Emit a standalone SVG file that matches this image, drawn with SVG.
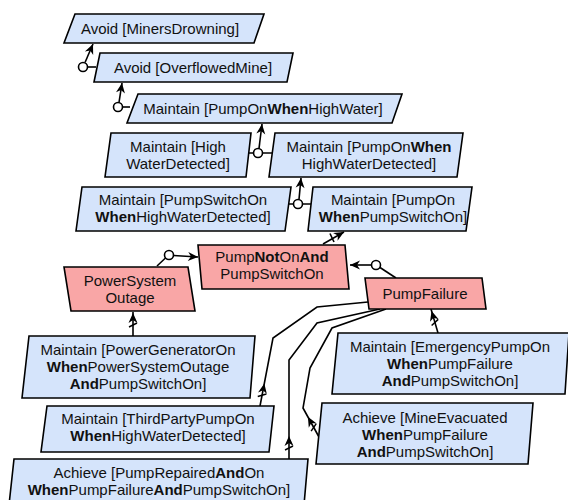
<svg xmlns="http://www.w3.org/2000/svg" width="568" height="500" viewBox="0 0 568 500">
<defs>
<style>
.g{fill:#d5e4fb;stroke:#000;stroke-width:1.6}
.o{fill:#f9a6a6;stroke:#000;stroke-width:1.6}
text{font-family:"Liberation Sans",Arial,sans-serif;font-size:15px;fill:#111;text-anchor:middle}
.b{font-weight:bold}
.c{fill:none;stroke:#000;stroke-width:1.6}
.ci{fill:#fff;stroke:#000;stroke-width:1.6}
</style>
<marker id="arr" markerUnits="userSpaceOnUse" markerWidth="12" markerHeight="10" refX="10" refY="5" orient="auto" overflow="visible">
<path d="M0,0.5 L10,5 L0,9.5 L3,5 Z" fill="#000"/>
</marker>
<marker id="res" markerUnits="userSpaceOnUse" markerWidth="26" markerHeight="12" refX="0" refY="6" orient="auto" overflow="visible">
<path d="M13,1.5 L23,6 L13,10.5 L16,6 Z" fill="#000"/>
<path d="M9,2 L13,10" stroke="#000" stroke-width="1.5"/>
</marker>
</defs>

<g id="connectors">
<circle class="ci" cx="83" cy="67" r="4.5"/>
<path class="c" d="M87.5,67 L96,67"/>
<path class="c" d="M85,62.5 L93,44" marker-end="url(#arr)"/>
<circle class="ci" cx="118" cy="107" r="4.5"/>
<path class="c" d="M122.5,107 L130,107"/>
<path class="c" d="M119,102.5 L122,83" marker-end="url(#arr)"/>
<circle class="ci" cx="258" cy="153" r="4.5"/>
<path class="c" d="M249,153 L253.5,153 M262.5,153 L272,153"/>
<path class="c" d="M259,148.5 L262,124" marker-end="url(#arr)"/>
<circle class="ci" cx="298" cy="204" r="4.5"/>
<path class="c" d="M288,204 L293.5,204 M302.5,204 L311,204"/>
<path class="c" d="M299,199.5 L301,178" marker-end="url(#arr)"/>
<circle class="ci" cx="169" cy="255" r="4.5"/>
<path class="c" d="M157,266 L165.5,258"/>
<path class="c" d="M173.5,255.5 L198,257" marker-end="url(#arr)"/>
<circle class="ci" cx="376" cy="265" r="4.5"/>
<path class="c" d="M396,278 L380,267.5"/>
<path class="c" d="M371.5,265 L350,265" marker-end="url(#arr)"/>
<path class="c" d="M323,244 L344,232" marker-end="url(#arr)"/>
<path class="c" d="M330,233.5 L334,242"/>
<path class="c" d="M133,336 L133,312" marker-start="url(#res)"/>
<path class="c" d="M438,333 L431,309" marker-start="url(#res)"/>
<path class="c" d="M260,406 L273,338 L317,307 L368,302" marker-start="url(#res)"/>
<path class="c" d="M289,459 L289,360 L317,323 L380,309" marker-start="url(#res)"/>
<path class="c" d="M319,437 L303,408 L310,368 L332,328 L386,309" marker-start="url(#res)"/>
</g>

<g id="n1"><path class="g" d="M75,14 L264,14 L254,43 L64,43 Z"/><text x="160" y="34">Avoid [MinersDrowning]</text></g>
<g id="n2"><path class="g" d="M100,53 L293,53 L287,82 L94,82 Z"/><text x="193" y="73">Avoid [OverflowedMine]</text></g>
<g id="n3"><path class="g" d="M138,94 L402,94 L392,123 L127,123 Z"/><text x="263" y="114">Maintain [PumpOn<tspan class="b">When</tspan>HighWater]</text></g>
<g id="n4"><path class="g" d="M111,133 L251,133 L246,177 L105,177 Z"/><text x="178" y="152">Maintain [High</text><text x="178" y="169">WaterDetected]</text></g>
<g id="n5"><path class="g" d="M275,133 L463,133 L457,177 L269,177 Z"/><text x="369" y="152">Maintain [PumpOn<tspan class="b">When</tspan></text><text x="369" y="169">HighWaterDetected]</text></g>
<g id="n6"><path class="g" d="M82,187 L291,187 L285,231 L76,231 Z"/><text x="183" y="205">Maintain [PumpSwitchOn</text><text x="183" y="222"><tspan class="b">When</tspan>HighWaterDetected]</text></g>
<g id="n7"><path class="g" d="M313,187 L472,187 L466,231 L308,231 Z"/><text x="393" y="205">Maintain [PumpOn</text><text x="393" y="222"><tspan class="b">When</tspan>PumpSwitchOn]</text></g>
<g id="n8"><path class="o" d="M198,245 L345,245 L349,289 L202,289 Z"/><text x="272" y="262">Pump<tspan class="b">Not</tspan>On<tspan class="b">And</tspan></text><text x="272" y="279">PumpSwitchOn</text></g>
<g id="n9"><path class="o" d="M64,267 L188,267 L195,311 L71,311 Z"/><text x="130" y="286">PowerSystem</text><text x="130" y="303">Outage</text></g>
<g id="n10"><path class="o" d="M365,278 L482,278 L486,309 L369,309 Z"/><text x="425" y="299">PumpFailure</text></g>
<g id="n11"><path class="g" d="M29,336 L255,336 L250,398 L22,398 Z"/><text x="138" y="355">Maintain [PowerGeneratorOn</text><text x="138" y="372"><tspan class="b">When</tspan>PowerSystemOutage</text><text x="138" y="389"><tspan class="b">And</tspan>PumpSwitchOn]</text></g>
<g id="n12"><path class="g" d="M47,406 L274,406 L269,452 L41,452 Z"/><text x="158" y="424">Maintain [ThirdPartyPumpOn</text><text x="158" y="441"><tspan class="b">When</tspan>HighWaterDetected]</text></g>
<g id="n13"><path class="g" d="M14,459 L308,459 L304,505 L9,505 Z"/><text x="159" y="478">Achieve [PumpRepaired<tspan class="b">And</tspan>On</text><text x="159" y="495"><tspan class="b">When</tspan>PumpFailure<tspan class="b">And</tspan>PumpSwitchOn]</text></g>
<g id="n14"><path class="g" d="M338,333 L569,333 L565,394 L332,394 Z"/><text x="450" y="352">Maintain [EmergencyPumpOn</text><text x="450" y="369"><tspan class="b">When</tspan>PumpFailure</text><text x="450" y="386"><tspan class="b">And</tspan>PumpSwitchOn]</text></g>
<g id="n15"><path class="g" d="M322,403 L533,403 L528,464 L316,464 Z"/><text x="425" y="423">Achieve [MineEvacuated</text><text x="425" y="440"><tspan class="b">When</tspan>PumpFailure</text><text x="425" y="457"><tspan class="b">And</tspan>PumpSwitchOn]</text></g>
</svg>
